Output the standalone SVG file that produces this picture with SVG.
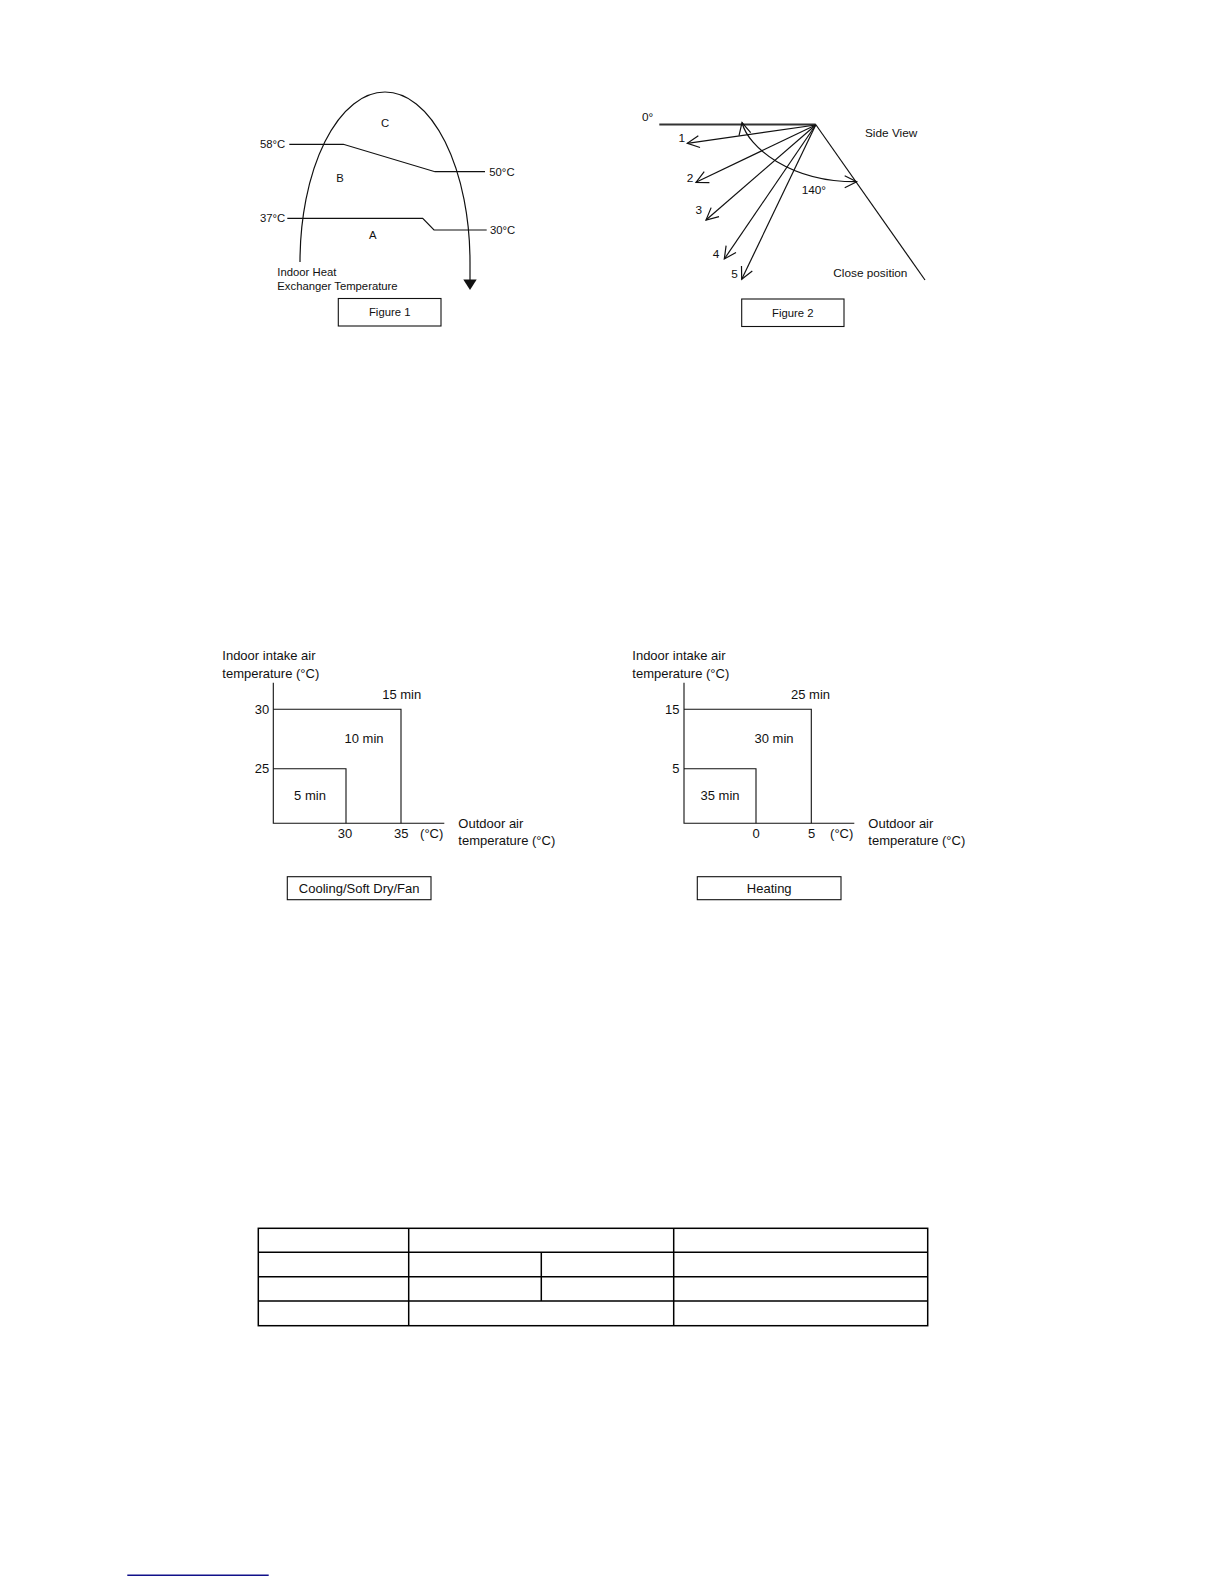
<svg xmlns="http://www.w3.org/2000/svg" width="1224" height="1584" viewBox="0 0 1224 1584">
<style>
text{font-family:"Liberation Sans",Arial,sans-serif;fill:#111}
.f1{font-size:11.3px}
.f2{font-size:11.8px}
.c{font-size:13px}
.ln{fill:none;stroke:#111;stroke-width:1.2}
.ax{fill:none;stroke:#111;stroke-width:1.1}
.bx{fill:#fff;stroke:#111;stroke-width:1.1}
.tb{fill:none;stroke:#000;stroke-width:1.5}
</style>
<defs>
<marker id="ah" markerUnits="userSpaceOnUse" markerWidth="16" markerHeight="16" refX="14" refY="8" viewBox="0 0 16 16" orient="auto-start-reverse">
<path d="M2,2 L14,8 L2,14" fill="none" stroke="#111" stroke-width="1.2"/>
</marker>
</defs>
<rect width="1224" height="1584" fill="#fff"/>

<g id="figure1">
<path class="ln" d="M300,262 A85,170 0 0 1 470,262 L470,281"/>
<polygon points="463.3,279.5 476.7,279.5 470,290" fill="#111"/>
<path class="ln" d="M289.3,144.3 H343.3 L435,171.7 H485"/>
<path class="ln" d="M287.3,218.3 H422.7 L434,230 H486.7"/>
<text class="f1" x="260" y="148.3">58°C</text>
<text class="f1" x="489.3" y="175.7">50°C</text>
<text class="f1" x="260" y="222.3">37°C</text>
<text class="f1" x="490" y="234">30°C</text>
<text class="f1" x="385" y="127" text-anchor="middle">C</text>
<text class="f1" x="340" y="181.7" text-anchor="middle">B</text>
<text class="f1" x="372.7" y="239" text-anchor="middle">A</text>
<text class="f1" x="277.3" y="276.3">Indoor Heat</text>
<text class="f1" x="277.3" y="290">Exchanger Temperature</text>
<rect class="bx" x="338.3" y="298.5" width="102.7" height="27.5"/>
<text class="f1" x="389.7" y="316.2" text-anchor="middle">Figure 1</text>
</g>

<g id="figure2">
<path d="M659.3,124.5 H815.7" fill="none" stroke="#333" stroke-width="1.8"/>
<path class="ln" d="M815.7,124.5 L925,280"/>
<g id="louver-arrows">
<path class="ln" d="M815.7,125 L687.3,143.3" marker-end="url(#ah)"/>
<path class="ln" d="M815.7,125 L696,182.3" marker-end="url(#ah)"/>
<path class="ln" d="M815.7,125 L706,220" marker-end="url(#ah)"/>
<path class="ln" d="M815.7,125 L724.3,259" marker-end="url(#ah)"/>
<path class="ln" d="M815.7,125 L741.7,279.3" marker-end="url(#ah)"/>
<path class="ln" d="M742,122.5 C748,147 790,182 856.7,181.7" marker-start="url(#ah)" marker-end="url(#ah)"/>
</g>
<text class="f2" x="642" y="121.3">0°</text>
<text class="f2" x="681.7" y="142.3" text-anchor="middle">1</text>
<text class="f2" x="690" y="181.7" text-anchor="middle">2</text>
<text class="f2" x="698.7" y="214" text-anchor="middle">3</text>
<text class="f2" x="716" y="258" text-anchor="middle">4</text>
<text class="f2" x="734.5" y="278" text-anchor="middle">5</text>
<text class="f2" x="801.7" y="194" font-size="11px">140°</text>
<text class="f2" x="865" y="137.3">Side View</text>
<text class="f2" x="833.3" y="276.7">Close position</text>
<rect class="bx" x="741.7" y="299" width="102.3" height="27.5"/>
<text class="f1" x="792.8" y="316.7" text-anchor="middle">Figure 2</text>
</g>

<g id="chart-cooling">
<path class="ax" d="M273.3,682.7 V823.3 H444.3"/>
<path class="ax" d="M273.3,709.3 H401 V823.3"/>
<path class="ax" d="M273.3,768.7 H346 V823.3"/>
<text class="c" x="222.3" y="660.4">Indoor intake air</text>
<text class="c" x="222.3" y="678">temperature (°C)</text>
<text class="c" x="269.3" y="714" text-anchor="end">30</text>
<text class="c" x="269.3" y="773.4" text-anchor="end">25</text>
<text class="c" x="401.7" y="698.7" text-anchor="middle">15 min</text>
<text class="c" x="364" y="743.4" text-anchor="middle">10 min</text>
<text class="c" x="310" y="800.4" text-anchor="middle">5 min</text>
<text class="c" x="345" y="838" text-anchor="middle">30</text>
<text class="c" x="401.3" y="838" text-anchor="middle">35</text>
<text class="c" x="431.7" y="838" text-anchor="middle">(°C)</text>
<text class="c" x="458.3" y="828">Outdoor air</text>
<text class="c" x="458.3" y="844.7">temperature (°C)</text>
<rect class="bx" x="287.3" y="876.7" width="143.7" height="23"/>
<text class="c" x="359.2" y="893" text-anchor="middle">Cooling/Soft Dry/Fan</text>
</g>

<g id="chart-heating">
<path class="ax" d="M684,682.7 V823.3 H854.3"/>
<path class="ax" d="M684,709.3 H811.3 V823.3"/>
<path class="ax" d="M684,768.7 H756 V823.3"/>
<text class="c" x="632.3" y="660.4">Indoor intake air</text>
<text class="c" x="632.3" y="678">temperature (°C)</text>
<text class="c" x="679.5" y="714" text-anchor="end">15</text>
<text class="c" x="679.5" y="773.4" text-anchor="end">5</text>
<text class="c" x="810.5" y="698.7" text-anchor="middle">25 min</text>
<text class="c" x="774" y="743.4" text-anchor="middle">30 min</text>
<text class="c" x="720" y="800.4" text-anchor="middle">35 min</text>
<text class="c" x="756" y="838" text-anchor="middle">0</text>
<text class="c" x="811.7" y="838" text-anchor="middle">5</text>
<text class="c" x="841.7" y="838" text-anchor="middle">(°C)</text>
<text class="c" x="868.3" y="828">Outdoor air</text>
<text class="c" x="868.3" y="844.7">temperature (°C)</text>
<rect class="bx" x="697.3" y="876.7" width="143.7" height="23"/>
<text class="c" x="769.2" y="893" text-anchor="middle">Heating</text>
</g>

<g id="table">
<rect class="tb" x="258.3" y="1228.3" width="669.4" height="97.4"/>
<path class="tb" d="M258.3,1252.3 H927.7 M258.3,1276.7 H927.7 M258.3,1301 H927.7"/>
<path class="tb" d="M408.7,1228.3 V1325.7 M673.7,1228.3 V1325.7 M541.3,1252.3 V1301"/>
</g>

<path d="M127.3,1575.3 H268.7" stroke="#10108a" stroke-width="1.5" fill="none"/>
</svg>
